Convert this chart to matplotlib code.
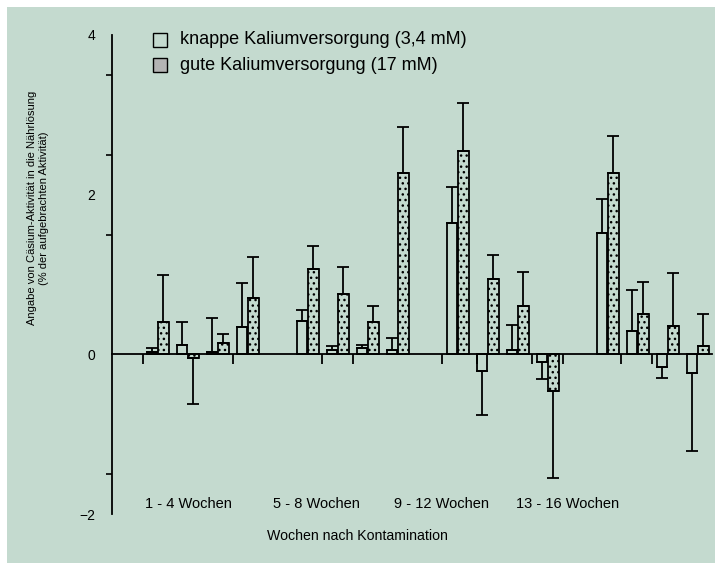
import numpy as np
import matplotlib
matplotlib.use("Agg")
import matplotlib.pyplot as plt
from matplotlib.patches import Rectangle

plt.rcParams['font.family'] = ['Liberation Sans', 'DejaVu Sans']

# Daten: Cs-Abgabe je Woche (4 Zeitraeume x 4 Wochen)
gruppen = ['1 - 4 Wochen', '5 - 8 Wochen', '9 - 12 Wochen', '13 - 16 Wochen']
knapp = [0.03, 0.12, 0.03, 0.34,
         0.42, 0.05, 0.08, 0.05,
         1.65, -0.21, 0.06, -0.10,
         1.52, 0.29, -0.16, -0.23]
knapp_err = [0.05, 0.28, 0.42, 0.55,
             0.14, 0.06, 0.04, 0.15,
             0.45, 0.55, 0.31, 0.21,
             0.42, 0.51, 0.14, 0.98]
gut = [0.40, -0.05, 0.14, 0.71,
       1.07, 0.75, 0.40, 2.27,
       2.55, 0.94, 0.60, -0.46,
       2.27, 0.50, 0.35, 0.10]
gut_err = [0.59, 0.57, 0.11, 0.51,
           0.29, 0.35, 0.20, 0.58,
           0.60, 0.31, 0.43, 1.09,
           0.46, 0.41, 0.67, 0.41]
legende = ['knappe Kaliumversorgung (3,4 mM)', 'gute Kaliumversorgung (17 mM)']

bg = '#c4dacf'
W, H = 715, 563
fig = plt.figure(figsize=(W / 100, H / 100), dpi=100, facecolor='white')
fig.patches.append(Rectangle((7 / W, 0), 1, 1 - 7 / H, transform=fig.transFigure,
                             facecolor=bg, edgecolor='none', zorder=-10))

ax = fig.add_axes([112 / W, 49 / H, 600 / W, 479 / H])
ax.set_facecolor('none')

# Position: 4 Wochen je Gruppe, eine Luecke zwischen den Gruppen
slot = np.array([g * 5 + w for g in range(4) for w in range(4)], dtype=float)
bw = 1 / 3
x_k = slot + bw / 2
x_g = slot + bw * 1.6


def one_sided(vals, errs):
    lo = [e if v < 0 else 0 for v, e in zip(vals, errs)]
    hi = [0 if v < 0 else e for v, e in zip(vals, errs)]
    return [lo, hi]


ax.bar(x_k, knapp, width=bw, facecolor='none', edgecolor='black', linewidth=1.3)
ax.bar(x_g, gut, width=bw * 1.1, facecolor='none', edgecolor='black', linewidth=1.3,
       hatch='...')
ax.errorbar(x_k, knapp, yerr=one_sided(knapp, knapp_err), fmt='none', ecolor='black',
            elinewidth=1.3, capsize=4, capthick=1.3)
ax.errorbar(x_g, gut, yerr=one_sided(gut, gut_err), fmt='none', ecolor='black',
            elinewidth=1.3, capsize=4, capthick=1.3)

ax.set_xlim(-1.17, 18.83)
ax.set_ylim(-2, 4)

for s in ['top', 'right']:
    ax.spines[s].set_visible(False)
ax.spines['left'].set_linewidth(1.3)
ax.spines['bottom'].set_position(('data', 0))
ax.spines['bottom'].set_linewidth(1.3)

ax.set_yticks([-2, 0, 2, 4])
ax.set_yticks([-1.5, 1.5, 2.5, 3.5], minor=True)
ax.tick_params(axis='y', which='major', length=0, pad=12, labelsize=10)
ax.tick_params(axis='y', which='minor', length=4, width=1.2)
ax.set_xticks([-0.13, 2.87, 5.83, 6.87, 9.83, 11.0, 12.83, 13.87, 15.8, 16.83])
ax.tick_params(axis='x', length=7, width=1.3, labelbottom=False)

for xpos, txt in zip([1.37, 5.63, 9.8, 14.03], gruppen):
    ax.text(xpos, -1.875, txt, ha='center', va='center', fontsize=10.5)

fig.text(357 / W, 1 - 536 / H, 'Wochen nach Kontamination', ha='center', va='center',
         fontsize=10.2)
fig.text(38 / W, 1 - 208 / H,
         'Angabe von Cäsium-Aktivität in die Nährlösung\n(% der aufgebrachten Aktivität)',
         rotation=90, ha='center', va='center', fontsize=8, linespacing=1.25)

# Legende
for i, (lab, fc) in enumerate(zip(legende, ['none', '#b4b4b4'])):
    yc = 40 + i * 25
    fig.patches.append(Rectangle((153 / W, 1 - (yc + 7) / H), 14 / W, 14 / H,
                                 transform=fig.transFigure, facecolor=fc,
                                 edgecolor='black', linewidth=1.0))
    fig.text(180 / W, 1 - yc / H, lab, ha='left', va='center', fontsize=13)

fig.savefig('out.png', dpi=100, facecolor=fig.get_facecolor())
